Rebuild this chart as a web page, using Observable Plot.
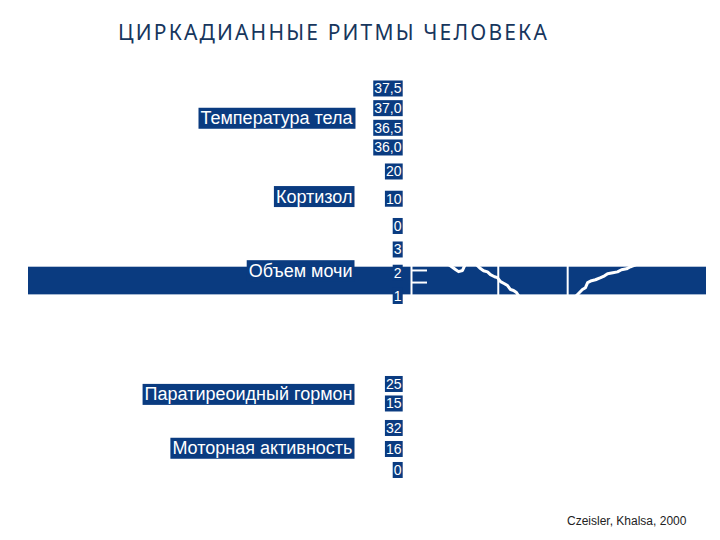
<!DOCTYPE html>
<html>
<head>
<meta charset="utf-8">
<script src="https://cdn.jsdelivr.net/npm/d3@7"></script>
<script src="https://cdn.jsdelivr.net/npm/@observablehq/plot@0.6"></script>
<style>
  html, body { margin: 0; padding: 0; background: #ffffff; }
  #page { position: relative; width: 720px; height: 540px; overflow: hidden; background: #fff; }
  #title { position: absolute; left: 118px; top: 19px; font-family: "Noto Sans", sans-serif; font-size: 21px; line-height: 26px; color: #17365d; white-space: nowrap; }
  #caption { position: absolute; left: 567px; top: 513px; font-family: "Liberation Sans", Arial, sans-serif; font-size: 12px; line-height: 16px; color: #222; white-space: nowrap; }
  .panel { position: absolute; left: 0; }
</style>
</head>
<body>
<div id="page">
  <div id="title"><span id="titleText">ЦИРКАДИАННЫЕ РИТМЫ ЧЕЛОВЕКА</span></div>
  <div id="caption">Czeisler, Khalsa, 2000</div>
</div>
<script>
// ---------- data ----------
const panelNames = ["Температура тела", "Кортизол", "Объем мочи", "Паратиреоидный гормон", "Моторная активность"];

const tempTicks = [36.0, 36.5, 37.0, 37.5];
const tempTickLabels = ["36,0", "36,5", "37,0", "37,5"];
const cortTicks = [0, 10, 20];
const cortTickLabels = ["0", "10", "20"];
const urineTicks = [1, 2, 3];
const urineTickLabels = ["1", "2", "3"];
const pthTicks = [15, 25];
const pthTickLabels = ["15", "25"];
const motorTicks = [0, 16, 32];
const motorTickLabels = ["0", "16", "32"];

// clock hours (13:00 day 1 ... 23:00 day 2)
const hours = [13, 15, 17, 19, 21, 23, 25, 27, 29, 31, 33, 35, 37, 39, 41, 43, 45, 47];
const tempValues  = [37.0, 37.1, 37.2, 37.2, 37.1, 36.9, 36.6, 36.4, 36.3, 36.4, 36.6, 36.8, 37.0, 37.1, 37.2, 37.2, 37.1, 36.9];
const cortValues  = [8, 6, 5, 4, 3, 2, 3, 6, 12, 18, 15, 12, 10, 8, 6, 5, 4, 3];
const pthValues   = [18, 17, 18, 19, 20, 22, 24, 25, 24, 21, 18, 17, 16, 17, 18, 19, 20, 21];
const motorValues = [24, 26, 22, 25, 20, 12, 1, 0, 0, 2, 20, 26, 24, 27, 23, 25, 20, 14];

const urineHours = [13, 14.5, 16, 17.2, 18.07, 18.42, 18.88, 19.22, 19.7, 20.4, 20.95, 21.3, 21.76, 22.1, 22.57, 22.9,
  23.26, 23.72, 24.07, 24.41, 24.76, 25.1, 25.33, 25.68, 26.7, 28.4, 30.2, 31.3, 31.9, 32.25, 32.7, 33.05,
  33.3, 33.75, 34.2, 34.8, 35.25, 35.6, 36.2, 36.74, 37.2, 37.78, 38.24, 39.4, 41, 43, 45, 47];
const urineValues = [2.6, 2.8, 2.5, 2.4, 2.16, 2.07, 2.12, 2.4, 2.5, 2.4, 2.2, 2.11, 2.06, 1.94, 1.85, 1.81,
  1.64, 1.55, 1.47, 1.30, 1.26, 1.17, 1.04, 0.83, 0.62, 0.49, 0.57, 0.74, 1.0, 1.13, 1.30, 1.38,
  1.60, 1.68, 1.72, 1.81, 1.89, 1.98, 2.02, 2.06, 2.15, 2.19, 2.28, 2.45, 2.6, 2.7, 2.55, 2.65];

const sleepBounds = [23, 31];          // lights off / on
const urineMinorTicks = [2.12, 1.6];
const urineHighlight = [{lo: 1.07, hi: 2.26}];

// ---------- layout ----------
const NAVY = "#0a3b80";
const xDomain = [13, 47];
const xRange = [411, 706];
const tickLen = 16 / ((xRange[1] - xRange[0]) / (xDomain[1] - xDomain[0])); // tick length in hours

const panels = [
  {name: panelNames[0], ticks: tempTicks, labels: tempTickLabels, x: hours, y: tempValues, top: 76, height: 84, pyLo: 147.5, pyHi: 88.5, labelAt: 36.75},
  {name: panelNames[1], ticks: cortTicks, labels: cortTickLabels, x: hours, y: cortValues, top: 160, height: 78, pyLo: 226, pyHi: 171.5, labelAt: 10.9},
  {name: panelNames[2], ticks: urineTicks, labels: urineTickLabels, x: urineHours, y: urineValues, top: 238, height: 70, pyLo: 296, pyHi: 249.5, labelAt: 2.10, urine: true},
  {name: panelNames[3], ticks: pthTicks, labels: pthTickLabels, x: hours, y: pthValues, top: 372, height: 44, pyLo: 403.5, pyHi: 384, labelAt: 19.8},
  {name: panelNames[4], ticks: motorTicks, labels: motorTickLabels, x: hours, y: motorValues, top: 416, height: 66, pyLo: 470, pyHi: 428, labelAt: 16.76}
];

const page = document.getElementById("page");

function boxText(t, padX, padY) {
  const b = t.getBBox();
  const r = document.createElementNS("http://www.w3.org/2000/svg", "rect");
  r.setAttribute("x", b.x - padX);
  r.setAttribute("y", b.y - padY);
  r.setAttribute("width", b.width + 2 * padX);
  r.setAttribute("height", b.height + 2 * padY);
  r.setAttribute("fill", NAVY);
  r.setAttribute("stroke", "none");
  const tr = t.getAttribute("transform");
  if (tr) r.setAttribute("transform", tr);
  t.parentNode.insertBefore(r, t);
}

for (const p of panels) {
  const lo = d3.min(p.ticks), hi = d3.max(p.ticks);
  const series = p.x.map((h, i) => ({h, v: p.y[i]}));
  const marks = [];
  if (p.urine) {
    marks.push(Plot.rect(urineHighlight, {y1: "lo", y2: "hi", fill: NAVY}));
    marks.push(Plot.ruleX([xDomain[0]], {stroke: "white", strokeWidth: 2}));
    marks.push(Plot.ruleY(urineMinorTicks, {x1: xDomain[0], x2: xDomain[0] + tickLen, stroke: "white", strokeWidth: 2}));
  }
  marks.push(Plot.ruleX(sleepBounds, {stroke: "white", strokeWidth: 2}));
  marks.push(Plot.line(series, {x: "h", y: "v", stroke: "white", strokeWidth: 3, curve: "linear"}));
  marks.push(Plot.text(p.ticks, {
    x: xDomain[0], y: d => d, text: (d, i) => p.labels[i],
    dx: -10, textAnchor: "end", fill: "white", fontSize: 14
  }));
  marks.push(Plot.text([p.name], {
    x: xDomain[0], y: p.labelAt, text: d => d,
    dx: -59, textAnchor: "end", fill: "white", fontSize: 18
  }));

  const svg = Plot.plot({
    width: 720,
    height: p.height,
    marginLeft: 28, marginRight: 14, marginTop: 0, marginBottom: 0,
    x: {domain: xDomain, range: xRange, axis: null},
    y: {domain: [lo, hi], range: [p.pyLo - p.top, p.pyHi - p.top], axis: null},
    style: {background: "transparent", overflow: "visible", fontFamily: "'Liberation Sans', Arial, sans-serif"},
    marks
  });
  svg.classList.add("panel");
  svg.style.top = p.top + "px";
  svg.style.position = "absolute";
  page.appendChild(svg);

  // navy highlight boxes behind the white tick labels and panel names
  svg.querySelectorAll("text").forEach(t => {
    const fs = parseFloat(getComputedStyle(t).fontSize);
    if (fs >= 17) boxText(t, 2, 0.5);
    else if (fs >= 13) boxText(t, 1, 0);
  });
}

// fit title to the width of the reference heading
const tt = document.getElementById("titleText");
const w = tt.getBoundingClientRect().width;
const n = tt.textContent.length;
tt.style.letterSpacing = ((431 - w) / n) + "px";
</script>
</body>
</html>
